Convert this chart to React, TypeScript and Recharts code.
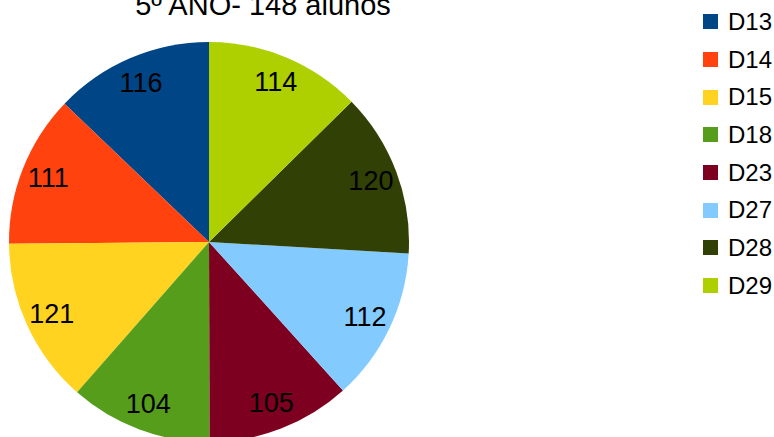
import React from 'react';
import { PieChart, Pie, Cell, Legend } from 'recharts';

const categories = ['D13', 'D14', 'D15', 'D18', 'D23', 'D27', 'D28', 'D29'];
const values = [116, 111, 121, 104, 105, 112, 120, 114];
const colors = ['#004586', '#ff420e', '#ffd320', '#579d1c', '#7e0021', '#83caff', '#314004', '#aecf00'];
const title = '5º ANO- 148 alunos';

const data = categories.map((name, i) => ({ name, value: values[i] }));

const FONT = '"Liberation Sans", Arial, sans-serif';
const RAD = Math.PI / 180;

// value labels sit inside the slice, near the rim
const renderLabel = (props: any) => {
  const { cx, cy, midAngle, value } = props;
  const r = 173;
  const x = cx + r * Math.cos(-midAngle * RAD);
  const y = cy + r * Math.sin(-midAngle * RAD);
  return (
    <text x={x} y={y} fill="#000" fontSize={27} fontFamily={FONT} textAnchor="middle" dominantBaseline="central">
      {value}
    </text>
  );
};

const renderLegend = (props: any) => {
  const { payload } = props;
  return (
    <div style={{ fontFamily: FONT, fontSize: 24, color: '#000' }}>
      {payload.map((entry: any, i: number) => (
        <div key={`leg-${i}`} style={{ display: 'flex', alignItems: 'center', height: 37.7, whiteSpace: 'nowrap' }}>
          <span style={{ width: 15, height: 15, background: entry.color, display: 'inline-block', marginRight: 10, flexShrink: 0 }} />
          <span style={{ lineHeight: '26px' }}>{entry.value}</span>
        </div>
      ))}
    </div>
  );
};

export default function App() {
  return (
    <div style={{ position: 'fixed', left: 0, top: 0, width: 774, height: 437, background: '#fff', overflow: 'hidden' }}>
      <div style={{ position: 'absolute', left: 0, width: 526, top: -9, textAlign: 'center', fontFamily: FONT, fontSize: 29, lineHeight: '29px', color: '#000', whiteSpace: 'nowrap' }}>
        {title}
      </div>
      <PieChart width={774} height={437} margin={{ top: 0, right: 0, bottom: 0, left: 0 }}>
        <Pie
          data={data}
          dataKey="value"
          nameKey="name"
          cx={209}
          cy={242}
          outerRadius={200}
          startAngle={90}
          endAngle={450}
          stroke="none"
          label={renderLabel}
          labelLine={false}
          isAnimationActive={false}
        >
          {data.map((d, i) => (
            <Cell key={`cell-${d.name}`} fill={colors[i]} />
          ))}
        </Pie>
        <Legend
          layout="vertical"
          align="right"
          verticalAlign="top"
          content={renderLegend}
          wrapperStyle={{ position: 'absolute', left: 703, top: 3, width: 71 }}
        />
      </PieChart>
    </div>
  );
}
